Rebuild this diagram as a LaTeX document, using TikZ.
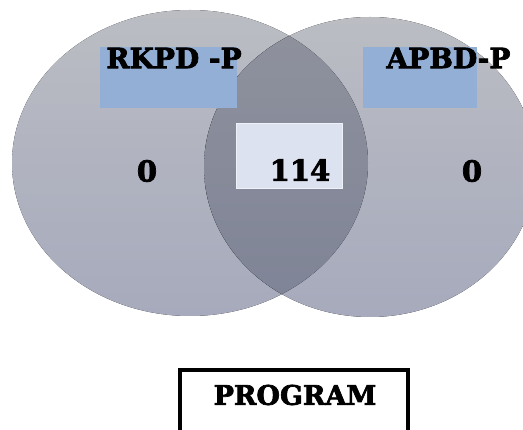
\documentclass[tikz,border=0pt]{standalone}
\usepackage{fontspec}
\newfontfamily\vennfont{DejaVu Serif Bold}[FakeStretch=1.0,FakeBold=2.5]
\begin{document}
\begin{tikzpicture}[x=1pt,y=-1pt,
  venn/.style={top color=ellTop,bottom color=ellBot,draw=none},
  lens/.style={top color=lensTop,bottom color=lensBot,draw=none},
  bluebox/.style={fill=boxBlue,draw=none},
  lbl/.style={font=\vennfont\fontsize{28}{28}\selectfont,text=black,inner sep=0pt},
  num/.style={font=\vennfont\fontsize{29}{29}\selectfont,text=black,inner sep=0pt},
  progbox/.style={draw=black,line width=3.5pt,fill=white},
]
\definecolor{ellTop}{HTML}{BBBDC3}
\definecolor{ellBot}{HTML}{A6AABC}
\definecolor{lensTop}{HTML}{8F929D}
\definecolor{lensBot}{HTML}{7E8396}
\definecolor{boxBlue}{HTML}{93AFD6}
\definecolor{midBox}{HTML}{DCE2F0}
\definecolor{midEdge}{HTML}{EEF1F8}
\useasboundingbox (0,0) rectangle (523,430);
\clip (0,0) rectangle (523,430);
% ellipses
\fill[venn] (190,163) ellipse [x radius=178,y radius=153];
\fill[venn] (370,167) ellipse [x radius=166,y radius=150];
\begin{scope}
  \clip (190,163) ellipse [x radius=178,y radius=153];
  \fill[lens] (370,167) ellipse [x radius=166,y radius=150];
\end{scope}
% blue label boxes
\fill[bluebox] (100,47) rectangle (237,108);
\fill[bluebox] (363,47) rectangle (477,108);
\node[lbl] (rkpd) at (174,58) {RKPD -P};
\node[lbl] (apbd) at (448.5,58) {APBD-P};
% middle box
\node[fill=midBox,draw=midEdge,line width=1.5pt,minimum width=106pt,minimum height=65pt,inner sep=0pt] (mid) at (289.5,156) {};
\node[num] (n114) at (300,170) {114};
\node[num] (n0l) at (147,171) {0};
\node[num] (n0r) at (472,171) {0};
% program box
\draw[progbox] (180,370) rectangle (408,440);
\node[lbl,font=\vennfont\fontsize{27}{27}\selectfont] (prog) at (295,395) {PROGRAM};
\end{tikzpicture}
\end{document}
